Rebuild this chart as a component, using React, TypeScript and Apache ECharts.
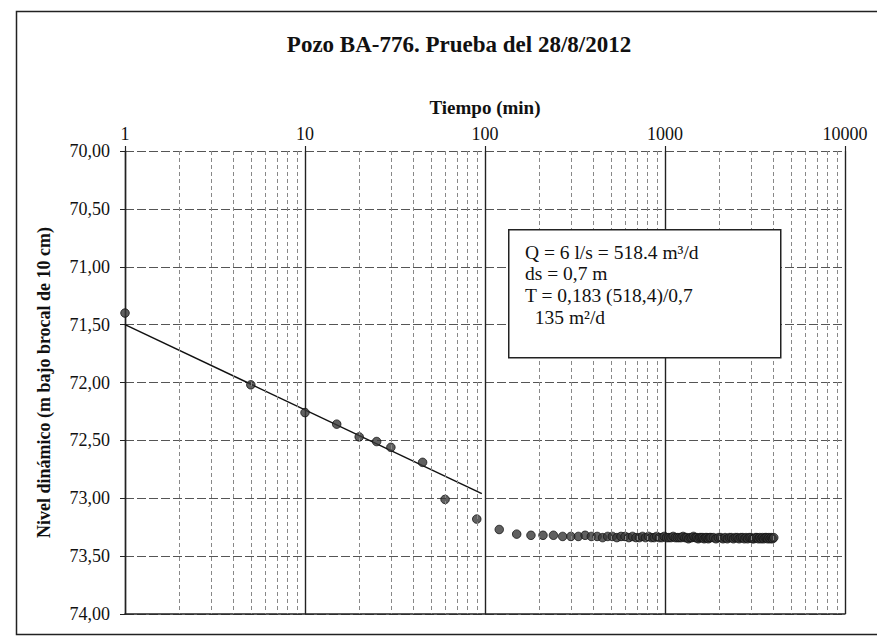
import React, { useEffect, useRef } from "react";
import * as echarts from "echarts";

const chartTitle = "Pozo BA-776. Prueba del 28/8/2012";
const xAxisName = "Tiempo (min)";
const yAxisName = "Nivel dinámico (m bajo brocal de 10 cm)";

const timeMin = [
  1, 5, 10, 15, 20, 25, 30, 45, 60, 90, 120,
  150, 180, 210, 240, 270, 300, 330, 360, 390, 420, 450, 480, 510, 540, 570, 600,
  630, 660, 690, 720, 750, 780, 810, 840, 870, 900, 930, 960, 990, 1020, 1050, 1080,
  1110, 1140, 1170, 1200, 1230, 1260, 1290, 1320, 1350, 1380, 1410, 1440, 1470, 1500,
  1530, 1560, 1590, 1620, 1650, 1680, 1710, 1740, 1770, 1800,
  1860, 1920, 1980, 2040, 2100, 2160, 2220, 2280, 2340, 2400, 2460, 2520, 2580, 2640,
  2700, 2760, 2820, 2880, 2940, 3000, 3060, 3120, 3180, 3240, 3300, 3360, 3420, 3480,
  3540, 3600, 3660, 3720, 3780, 3840, 3900, 3960, 4020, 4080, 4140, 4200,
];

const levelM = [
  71.4, 72.02, 72.26, 72.36, 72.47, 72.51, 72.56, 72.69, 73.01, 73.18, 73.27,
  73.31, 73.32, 73.32, 73.32, 73.33, 73.33, 73.33, 73.32, 73.33, 73.33, 73.34, 73.33,
  73.33, 73.34, 73.33, 73.33, 73.34, 73.33, 73.34, 73.34, 73.33, 73.34, 73.33, 73.34,
  73.34, 73.33, 73.34, 73.34, 73.33, 73.34, 73.34, 73.34, 73.33, 73.34, 73.34, 73.34,
  73.34, 73.33, 73.34, 73.34, 73.35, 73.34, 73.34, 73.33, 73.34, 73.34, 73.35, 73.34,
  73.34, 73.34, 73.35, 73.34, 73.34, 73.35, 73.34, 73.34,
  73.34, 73.35, 73.34, 73.34, 73.35, 73.34, 73.35, 73.34, 73.34, 73.35, 73.34, 73.34,
  73.35, 73.34, 73.34, 73.35, 73.34, 73.35, 73.34, 73.34, 73.35, 73.35, 73.34, 73.34,
  73.35, 73.34, 73.35, 73.34, 73.35, 73.34, 73.34, 73.35, 73.34, 73.35, 73.34, 73.35,
  73.34,
];

const trendTime = [1, 96];
const trendLevel = [71.5, 72.96];

const minorGridTimes = [
  2, 3, 4, 5, 6, 7, 8, 9,
  20, 30, 40, 50, 60, 70, 80, 90,
  200, 300, 400, 500, 600, 700, 800, 900,
  2000, 3000, 4000, 5000, 6000, 7000, 8000, 9000,
];

const noteLines = [
  "Q = 6 l/s = 518.4 m³/d",
  "ds = 0,7 m",
  "T = 0,183 (518,4)/0,7",
  "  135 m²/d",
];

const FONT = "Liberation Serif";

export default function App() {
  const ref = useRef<HTMLDivElement>(null);

  useEffect(() => {
    if (!ref.current) return;
    const chart = echarts.init(ref.current, null, { renderer: "svg" });

    const n = Math.min(timeMin.length, levelM.length);
    const scatterData = timeMin.slice(0, n).map((t, i) => [t, levelM[i]]);
    const trendData = trendTime.map((t, i) => [t, trendLevel[i]]);

    const noteX = 525;
    const noteY0 = 252;
    const noteDy = 21.7;

    const option: any = {
      animation: false,
      backgroundColor: "#ffffff",
      textStyle: { fontFamily: FONT },
      title: {
        text: chartTitle,
        left: 454,
        top: 28,
        textAlign: "center",
        textStyle: {
          fontFamily: FONT,
          fontSize: 23,
          fontWeight: "bold",
          color: "#111",
        },
      },
      grid: { left: 125, right: 32, top: 151, bottom: 23 },
      xAxis: [
        {
          type: "log",
          logBase: 10,
          min: 1,
          max: 10000,
          position: "top",
          name: xAxisName,
          nameLocation: "middle",
          nameGap: 34,
          nameTextStyle: {
            fontFamily: FONT,
            fontSize: 19,
            fontWeight: "bold",
            color: "#111",
          },
          axisLine: { show: false },
          axisTick: {
            show: true,
            length: 5,
            lineStyle: { color: "#222", width: 1.2 },
          },
          axisLabel: {
            fontFamily: FONT,
            fontSize: 18,
            color: "#111",
            margin: 8,
            formatter: (v: number) => String(Math.round(v)),
          },
          splitLine: {
            show: true,
            lineStyle: { color: "#222", width: 1.4, type: "solid" },
          },
        },
        {
          type: "log",
          logBase: 10,
          min: 1,
          max: 10000,
          position: "bottom",
          axisLine: { show: true, lineStyle: { color: "#222", width: 1.5 } },
          axisTick: { show: false },
          axisLabel: { show: false },
          splitLine: { show: false },
        },
      ],
      yAxis: {
        type: "value",
        inverse: true,
        min: 70,
        max: 74,
        interval: 0.5,
        name: yAxisName,
        nameLocation: "middle",
        nameGap: 72,
        nameTextStyle: {
          fontFamily: FONT,
          fontSize: 18,
          fontWeight: "bold",
          color: "#111",
        },
        axisLine: { show: true, lineStyle: { color: "#222", width: 1.4 } },
        axisTick: {
          show: true,
          length: 5,
          lineStyle: { color: "#222", width: 1 },
        },
        axisLabel: {
          fontFamily: FONT,
          fontSize: 18,
          color: "#111",
          margin: 15,
          formatter: (v: number) => v.toFixed(2).replace(".", ","),
        },
        splitLine: {
          show: true,
          lineStyle: { color: "#555", width: 1, type: [9, 3] },
        },
      },
      series: [
        {
          type: "line",
          name: "minor",
          data: [],
          silent: true,
          markLine: {
            silent: true,
            symbol: ["none", "none"],
            label: { show: false },
            lineStyle: { color: "#888", width: 1, type: [4, 3] },
            emphasis: { disabled: true },
            data: minorGridTimes.map((t) => ({ xAxis: t })),
          },
        },
        {
          type: "line",
          name: "tendencia",
          data: trendData,
          showSymbol: false,
          symbol: "none",
          lineStyle: { color: "#111", width: 1.5 },
          z: 3,
        },
        {
          type: "scatter",
          name: "nivel",
          data: scatterData,
          symbol: "circle",
          symbolSize: 8.5,
          itemStyle: { color: "#383838", borderColor: "#111", borderWidth: 1 },
          z: 4,
        },
      ],
      graphic: [
        {
          type: "rect",
          left: 14,
          top: 9,
          shape: { width: 900, height: 623 },
          style: { fill: "none", stroke: "#222", lineWidth: 1.5 },
          z: 0,
          silent: true,
        },
        {
          type: "rect",
          left: 508,
          top: 229,
          shape: { width: 272, height: 128 },
          style: { fill: "#ffffff", stroke: "#222", lineWidth: 1.5 },
          z: 10,
          silent: true,
        },
        ...noteLines.map((line, i) => ({
          type: "text",
          x: noteX,
          y: noteY0 + i * noteDy,
          z: 11,
          silent: true,
          style: {
            text: line,
            fontFamily: FONT,
            fontSize: 19.5,
            fill: "#111",
            verticalAlign: "middle",
          },
        })),
      ],
    };

    chart.setOption(option);
    return () => chart.dispose();
  }, []);

  return (
    <div
      ref={ref}
      style={{
        position: "fixed",
        left: 0,
        top: 0,
        width: 877,
        height: 637,
        background: "#fff",
      }}
    />
  );
}
